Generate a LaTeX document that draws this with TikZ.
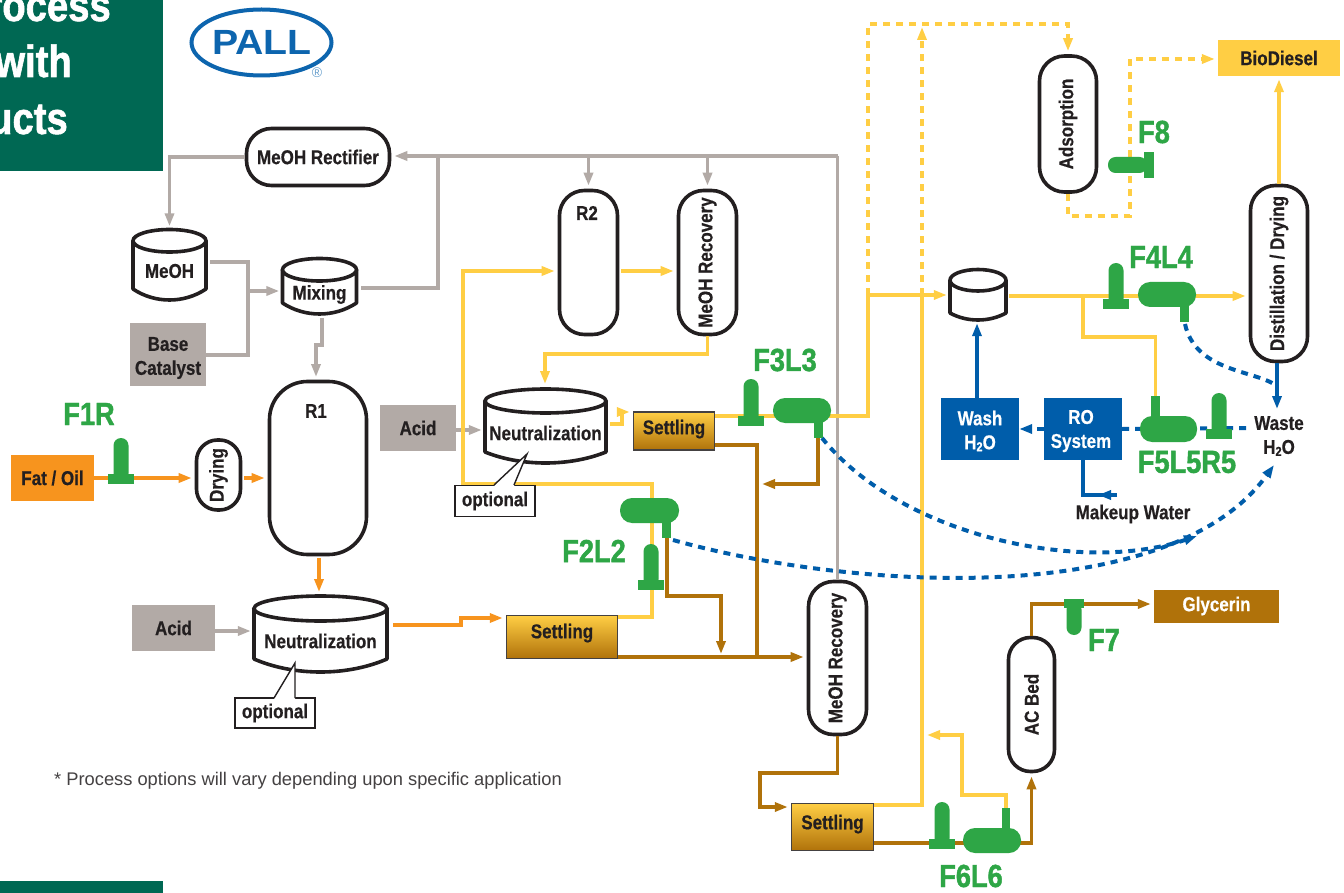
\documentclass[tikz,border=0pt]{standalone}
\usepackage{fontspec}
\setmainfont{Liberation Sans}[FakeStretch=0.85,BoldFeatures={FakeBold=0.5}]
\newfontfamily\plainf{Liberation Sans}
\newfontfamily\logof{Liberation Sans}[FakeStretch=1.12]
\newfontfamily\heavyf{Liberation Sans}[FakeStretch=0.85,BoldFeatures={FakeBold=1.3}]
\usetikzlibrary{arrows.meta,calc}
\pgfdeclarelayer{front}
\pgfsetlayers{main,front}
\definecolor{gry}{HTML}{B2AAA6}
\definecolor{yel}{HTML}{FFCE44}
\definecolor{org}{HTML}{F7941E}
\definecolor{brn}{HTML}{B0720A}
\definecolor{blu}{HTML}{005DAA}
\definecolor{grn}{HTML}{2EA646}
\definecolor{teal}{HTML}{006853}
\definecolor{ink}{HTML}{231F20}
\newcommand{\fs}[1]{\fontsize{#1}{#1}\selectfont}
\newcommand{\subtwo}{\raisebox{-2pt}{\fs{13}2}}
\tikzset{
  lbl/.style={text=ink,font=\bfseries\fs{20},inner sep=0pt,align=center},
  vessel/.style={draw=ink,line width=3.6pt,fill=white,lbl},
  solidbox/.style={inner sep=0pt,lbl},
  settlebox/.style={draw=ink!85,line width=1.5pt,top color=yel,bottom color=brn,lbl},
  callout/.style={draw=ink,line width=1.4pt,fill=white,lbl},
  tag/.style={text=grn,font=\heavyf\bfseries\fs{32},inner sep=0pt},
  headtext/.style={anchor=base east,text=white,font=\heavyf\bfseries\fs{45},inner sep=0pt},
  grnpart/.style={fill=grn,inner sep=0pt,minimum size=0pt},
  pipe/.style={line width=3.6pt,line join=miter},
  gp/.style={pipe,draw=gry},
  yp/.style={pipe,draw=yel},
  op/.style={pipe,draw=org},
  bp/.style={pipe,draw=brn},
  lp/.style={pipe,draw=blu},
  dots/.style={dash pattern=on 7pt off 6pt,line width=4pt},
  arr/.style={-{Triangle[length=13pt,width=9pt]},shorten >=3pt},
  arrb/.style={-{Triangle[length=13pt,width=9pt]}},
  tanknode/.style={inner sep=0pt},
}
\newcommand{\tanktext}{}
\newcommand{\tank}[8]{% name xl xr top lower side bottom text-y
  \pgfmathsetmacro{\tcx}{(#2+#3)/2}
  \pgfmathsetmacro{\trx}{(#3-#2)/2}
  \pgfmathsetmacro{\tkry}{(#5-#4)/2}
  \pgfmathsetmacro{\tym}{(#4+#5)/2}
  \pgfmathsetmacro{\tcc}{(4*#7-#6)/3}
  \pgfmathsetmacro{\tcl}{#2+0.3*(#3-#2)}
  \pgfmathsetmacro{\tcr}{#3-0.3*(#3-#2)}
  \pgfmathsetmacro{\tcmy}{(#4+#7)/2}
  \pgfmathsetmacro{\tnh}{#7-#4}
  \pgfmathsetmacro{\tnw}{#3-#2}
  \draw[draw=ink,line width=3.6pt,fill=white,line join=round] (#2,\tym) -- (#2,#6) .. controls (\tcl,\tcc) and (\tcr,\tcc) .. (#3,#6) -- (#3,\tym);
  \draw[draw=ink,line width=3.6pt,fill=white] (\tcx,\tym) ellipse ({\trx pt} and {\tkry pt});
  \node[tanknode,minimum width=\tnw pt,minimum height=\tnh pt] (#1) at (\tcx,\tcmy) {};
  \node[lbl] (#1t) at (\tcx,#8) {\tanktext};
}
\newcommand{\filterup}[4]{% name cx basey(center) top
  \fill[grn,rounded corners=7.5pt] (#2-7.5,#3+2) -- (#2-7.5,#4) -- (#2+7.5,#4) -- (#2+7.5,#3+2) -- cycle;
  \node[grnpart,minimum width=26pt,minimum height=10pt] (#1) at (#2,#3) {};
}
\newcommand{\pill}[5]{% name xl xr yt yb
  \pgfmathsetmacro{\pnw}{#3-#2}\pgfmathsetmacro{\pnh}{#5-#4}
  \node[grnpart,rounded corners=12pt,minimum width=\pnw pt,minimum height=\pnh pt] (#1) at ({(#2+#3)/2},{(#4+#5)/2}) {};
}
\newcommand{\nozzle}[5]{% name xl xr yt yb
  \pgfmathsetmacro{\pnw}{#3-#2}\pgfmathsetmacro{\pnh}{#5-#4}
  \node[grnpart,minimum width=\pnw pt,minimum height=\pnh pt] (#1) at ({(#2+#3)/2},{(#4+#5)/2}) {};
}
\begin{document}
\begin{tikzpicture}[x=1pt,y=-1pt]
\useasboundingbox (0,0) rectangle (1344,893);
\fill[white] (0,0) rectangle (1344,893);
% header blocks
\fill[teal] (0,0) rectangle (163,171);
\fill[teal] (0,881) rectangle (163,893);
\begin{scope}
\clip (0,0) rectangle (163,171);
\node[headtext] (h1) at (111,21) {rocess};
\node[headtext] (h2) at (72,77) {with};
\node[headtext] (h3) at (68,134) {ucts};
\end{scope}
% logo
\draw[blu!95,line width=4pt] (261.5,42.5) ellipse (70pt and 33pt);
\node[text=blu!95,font=\logof\bfseries\fs{35},inner sep=0pt] (pall) at (262,42) {PALL};
\node[text=blu!60,font=\plainf\fs{14},inner sep=0pt] (reg) at (317,73) {®};
% vessels
\node[vessel,rounded corners=25pt,minimum width=143pt,minimum height=57pt] (rect) at (318,157) {MeOH Rectifier};
\node[vessel,rounded corners=25pt,minimum width=58pt,minimum height=144pt] (r2) at (588.5,262.5) {};
\node[lbl] (r2t) at (587,213) {R2};
\node[vessel,rounded corners=25pt,minimum width=58pt,minimum height=144pt] (rec1) at (707.5,262.5) {\rotatebox{90}{MeOH Recovery}};
\node[vessel,rounded corners=38pt,minimum width=97pt,minimum height=173pt] (r1) at (318,468) {};
\node[lbl] (r1t) at (316,411) {R1};
\node[vessel,rounded corners=21pt,minimum width=44pt,minimum height=70pt] (dry) at (218.5,475) {\rotatebox{90}{Drying}};
\node[vessel,rounded corners=25pt,minimum width=58pt,minimum height=153pt] (rec2) at (837.5,658) {\rotatebox{90}{MeOH Recovery}};
\node[vessel,rounded corners=22pt,minimum width=46pt,minimum height=134pt] (acb) at (1031.5,704.5) {\rotatebox{90}{AC Bed}};
\node[vessel,rounded corners=25pt,minimum width=57pt,minimum height=136pt] (ads) at (1068,124) {\rotatebox{90}{Adsorption}};
\node[vessel,rounded corners=25pt,minimum width=57pt,minimum height=176pt] (dist) at (1279,273.5) {\rotatebox{90}{Distillation / Drying}};
% tanks
\renewcommand{\tanktext}{MeOH}\tank{tmeoh}{133}{206}{229.5}{252}{289}{300}{271}
\renewcommand{\tanktext}{Mixing}\tank{tmix}{282.5}{356.5}{258.5}{281}{303}{314}{294.5}
\renewcommand{\tanktext}{Neutralization}\tank{tn2}{485}{606}{389}{413}{452}{463}{433}
\renewcommand{\tanktext}{Neutralization}\tank{tn1}{254}{387}{596}{621}{659}{672}{641}
\renewcommand{\tanktext}{}\tank{twash}{950}{1006}{269.5}{291}{313}{320}{300}
% boxes
\node[solidbox,fill=org,minimum width=83pt,minimum height=46pt] (fat) at (52.5,478) {Fat / Oil};
\node[solidbox,fill=gry,minimum width=83pt,minimum height=46pt] (acid1) at (173.5,628) {Acid};
\node[solidbox,fill=gry,minimum width=76pt,minimum height=46pt] (acid2) at (418,428) {Acid};
\node[solidbox,fill=gry,minimum width=76pt,minimum height=63pt] (base) at (168,354.5) {};
\node[lbl] (baset) at (168,358) {Base\\[4pt]Catalyst};
\node[solidbox,fill=blu,minimum width=78pt,minimum height=62pt] (wash) at (980,429) {};
\node[lbl,text=white] (washt) at (980,431) {Wash\\[4pt]H\subtwo O};
\node[solidbox,fill=blu,minimum width=78pt,minimum height=62pt] (ro) at (1083,429) {};
\node[lbl,text=white] (rot) at (1081,431) {RO\\[4pt]System};
\node[solidbox,fill=brn,text=white,minimum width=125pt,minimum height=33pt] (gly) at (1216.5,606) {\raisebox{2pt}{Glycerin}};
\node[solidbox,fill=yel,minimum width=122pt,minimum height=36pt] (bio) at (1279,58) {BioDiesel};
\node[settlebox,minimum width=81pt,minimum height=38pt] (set1) at (674,431) {\raisebox{8pt}{Settling}};
\node[settlebox,minimum width=111pt,minimum height=43pt] (set2) at (562,637) {\raisebox{12pt}{Settling}};
\node[settlebox,minimum width=82pt,minimum height=47pt] (set3) at (832.5,827) {\raisebox{10pt}{Settling}};
% free texts
\node[lbl] (waste) at (1279,436) {Waste\\[4pt]H\subtwo O};
\node[lbl] (mk) at (1133,514) {Makeup Water};
\node[text=ink!85,font=\plainf\fs{18.3},anchor=west,inner sep=0pt] (note) at (54,781) {* Process options will vary depending upon specific application};
% green parts on the front layer
\begin{pgfonlayer}{front}
\filterup{f1}{121}{479}{438}
\filterup{f2}{651}{585}{544}
\filterup{f3}{751}{421}{379}
\filterup{f4}{1116}{304}{263}
\filterup{r5}{1219}{434}{393}
\filterup{f6}{942}{844}{802}
\pill{l2}{620}{679}{498}{523}
\nozzle{n2}{662}{671}{515}{538}
\pill{l3}{773}{831}{398}{423}
\nozzle{n3}{814}{823}{415}{438}
\pill{l4}{1138}{1196}{282}{307}
\nozzle{n4}{1180}{1189}{300}{322}
\pill{l5}{1140}{1197}{416}{442}
\nozzle{n5}{1151}{1160}{396}{422}
\pill{l6}{963}{1021}{828}{853}
\nozzle{n6}{1002}{1010}{808}{834}
% F7 (stem down), F8 (stem left)
\fill[grn,rounded corners=7.5pt] (1066.5,602) -- (1081.5,602) -- (1081.5,635) -- (1066.5,635) -- cycle;
\node[grnpart,minimum width=20pt,minimum height=9pt] (f7) at (1074,603) {};
\fill[grn,rounded corners=7.5pt] (1147,157) -- (1147,173) -- (1108,173) -- (1108,157) -- cycle;
\node[grnpart,minimum width=10pt,minimum height=26pt] (f8) at (1149,165) {};
\node[tag] (t1) at (89,414) {F1R};
\node[tag] (t2) at (594,551) {F2L2};
\node[tag] (t3) at (785,360) {F3L3};
\node[tag] (t4) at (1161,257) {F4L4};
\node[tag] (t5) at (1187,462) {F5L5R5};
\node[tag] (t6) at (971,876) {F6L6};
\node[tag] (t7) at (1104,640) {F7};
\node[tag] (t8) at (1154,132) {F8};
\end{pgfonlayer}
% junction coordinates
\coordinate (gtop) at (837.5,156);
\coordinate (gmix) at (438,156);
\coordinate (gsplit) at (248,291);
\coordinate (y484) at (463,484);
\coordinate (yup) at (868,295);
\coordinate (ytwo) at (922,295);
\coordinate (yb) at (1083,296);
\coordinate (bmain) at (757,657);
\coordinate (bfour) at (721,657);
\coordinate (wend) at (1248,428);
% gray
\draw[gp,arr] (rect.west) -- (169.5,157) -- (tmeoh.north);
\draw[gp] (tmeoh.east |- 0,262) ++(4,0) -- (248,262) -- (248,355) -- (base.east |- 0,355);
\draw[gp,arr] (gsplit) -- (tmix.west |- gsplit);
\draw[gp] (361,288) -- (438,288) -- (gmix);
\draw[gp,arr] (gtop) -- (rect.east |- gtop);
\draw[gp] (gtop) -- (rec2.north);
\draw[gp,arr] (588.5,156) -- (r2.north);
\draw[gp,arr] (707.5,156) -- (rec1.north);
\draw[gp,arr] (322,318) -- (322,345) -- (316,345) -- (316,380);
\draw[gp,arr] (acid1.east |- 0,631) -- (tn1.west |- 0,631);
\draw[gp,arr] (acid2.east |- 0,430) -- (tn2.west |- 0,430);
% orange
\draw[op,arr] (fat.east) -- (dry.west |- fat.east);
\draw[op,arr] (dry.east |- 0,478) ++(2,0) -- (r1.west |- 0,478);
\draw[op,arr] (319,558) -- (319,595);
\draw[op,arr] (393,625) -- (461,625) -- (461,618) -- (set2.west |- 0,618);
% yellow
\draw[yp,arr] (set2.east |- 0,617) -- (652,617) -- (652,484) -- (y484) -- (463,271) -- (r2.west |- 0,271);
\draw[yp,arr] (r2.east |- 0,271) ++(2,0) -- (rec1.west |- 0,271);
\draw[yp,arr] (rec1.south) -- (707.5,354) -- (545,354) -- (545,387);
\draw[yp,arr] (610,424) -- (622,424) -- (622,412) -- (set1.west |- 0,412);
\draw[yp,arr] (set1.east |- 0,416) -- (868,416) -- (yup) -- (twash.west |- yup);
\draw[yp,dots,arr] (yup) -- (868,24) -- (1068,24) -- (ads.north);
\draw[yp] (set3.east |- 0,805) -- (922,805) -- (ytwo);
\draw[yp,dots,arr] (ytwo) -- (922,24);
\draw[yp,dots,arr] (ads.south) -- (1068,216) -- (1130,216) -- (1130,59) -- (bio.west |- 0,59);
\draw[yp,arr] (1009,296) -- (dist.west |- 0,296);
\draw[yp] (yb) -- (1083,337) -- (1155.5,337) -- (n5.north);
\draw[yp,arr] (dist.north) -- (bio.south -| dist.north);
\draw[yp,arr] (n6.north) -- (1006,795) -- (962,795) -- (962,735) -- (924,735);
% brown
\draw[bp] (set1.east |- 0,445) -- (757,445) -- (bmain);
\draw[bp,arr] (set2.east |- bmain) -- (rec2.west |- bmain);
\draw[bp,arr] (818,438) -- (818,484) -- (759,484);
\draw[bp,arr] (667,538) -- (667,596) -- (721,596) -- (bfour);
\draw[bp,arr] (rec2.south) -- (837.5,773) -- (760,773) -- (760,807) -- (set3.west |- 0,807);
\draw[bp,arr] (set3.east |- 0,843) -- (1031.5,843) -- (acb.south);
\draw[bp,arr] (acb.north) -- (1031.5,604) -- (gly.west |- 0,604);
% blue
\draw[lp,arr] (wash.north -| 977,0) -- (twash.south -| 977,0);
\draw[lp] (ro.south) -- (1083,495) -- (1117,495);
\coordinate (mk1) at (1117,495);
\draw[blu,arrb,line width=3.6pt] (mk1) -- (1098,495);
\draw[lp,arr] (dist.south -| 1277,0) -- (1277,412);
\draw[lp,dots] (ro.east) -- (wend);
\draw[lp,dots,arrb] (ro.west) -- (wash.east);
\draw[lp,dots] (1185,324) .. controls (1195,370) and (1250,370) .. (1274,384);
\draw[lp,dots,arrb] (822,438) .. controls (900,535) and (1080,575) .. (1197,536);
\draw[lp,dots,arrb] (673,540) .. controls (850,590) and (1170,610) .. (1274,465);
% callouts
\node[callout,minimum width=80pt,minimum height=31pt] (opt2) at (495,501) {\raisebox{-3pt}{optional}};
\node[callout,minimum width=80pt,minimum height=30pt] (opt1) at (275,713) {\raisebox{-3pt}{optional}};
\fill[white] (494,486) -- (527,454) -- (514,486) -- cycle;
\draw[ink,line width=1.4pt] (494,485) -- (527,454) -- (514,485);
\fill[white] (274,699) -- (295,663) -- (295,699) -- cycle;
\draw[ink,line width=1.4pt] (274,698) -- (295,663) -- (295,698);
\end{tikzpicture}
\end{document}
